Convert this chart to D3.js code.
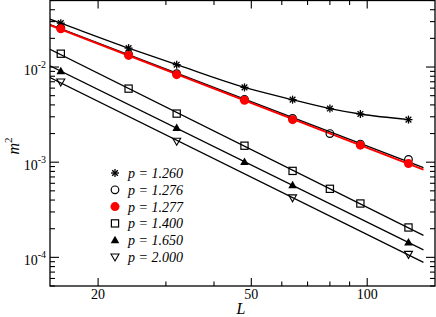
<!DOCTYPE html>
<html lang="en">
<head>
    <meta charset="UTF-8">
    <title>m2 vs L</title>
    <style>
        body { margin: 0; background: #fff; }
        text { font-family: "Liberation Serif", "Times New Roman", serif; fill: #000; }
        .fit { fill: none; stroke: #000; stroke-width: 1.3px; }
    </style>
    <script src="https://d3js.org/d3.v7.min.js"></script>
</head>
<body>
    <svg id="chart"></svg>

    <script>
        // system sizes
        const L = [16, 24, 32, 48, 64, 80, 96, 128];

        // m^2 for each p (null = no point)
        const p1260 = [0.0289, 0.0158, 0.01058, 0.00611, 0.00454, 0.00366, 0.00321, 0.0028];
        const p1276 = [0.0258, 0.0136, 0.0085, 0.00458, 0.00288, 0.0020, 0.00155, 0.00107];
        const p1277 = [0.0252, 0.01324, 0.00831, 0.00447, 0.0028, null, 0.00151, 0.00097];
        const p1400 = [0.0138, 0.00593, 0.00324, 0.00149, 0.00081, 0.000525, 0.000368, 0.000206];
        const p1650 = [0.0090, null, 0.00229, 0.001007, 0.000573, null, null, 0.000143];
        const p2000 = [0.00695, null, 0.00166, null, 0.000422, null, null, 0.0001075];

        const legendLabels = ["p = 1.260", "p = 1.276", "p = 1.277", "p = 1.400", "p = 1.650", "p = 2.000"];
        const xMajor = [20, 50, 100];
        const xMinor = [30, 40, 60, 70, 80, 90];
        const yMajor = [1e-4, 1e-3, 1e-2];
        const yMajorExp = ["-4", "-3", "-2"];

        const width = 436, height = 317;
        const mLeft = 50, mRight = 435, mTop = 0.5, mBottom = 286;

        const svg = d3.select("#chart").attr("width", width).attr("height", height);

        const x = d3.scaleLog().domain([15, 150]).range([mLeft, mRight]);
        const y = d3.scaleLog().domain([5e-5, 0.05]).range([mBottom, mTop]);

        const yMinor = [];
        [1e-5, 1e-4, 1e-3, 1e-2].forEach(d => {
            for (let k = 2; k <= 9; k++) {
                const v = k * d;
                if (v >= 5e-5 && v <= 0.05) yMinor.push(v);
            }
        });

        // clip for the plot area
        svg.append("clipPath").attr("id", "clip")
            .append("rect").attr("x", mLeft).attr("y", mTop)
            .attr("width", mRight - mLeft).attr("height", mBottom - mTop);

        const plot = svg.append("g").attr("clip-path", "url(#clip)");

        function pts(vals) {
            return L.map((l, i) => ({ L: l, v: vals[i] })).filter(d => d.v != null);
        }

        // power law fit in log-log
        function fit(vals) {
            const d = pts(vals);
            const xs = d.map(p => Math.log10(p.L)), ys = d.map(p => Math.log10(p.v));
            const mx = d3.mean(xs), my = d3.mean(ys);
            const b = d3.sum(xs, (xv, i) => (xv - mx) * (ys[i] - my)) / d3.sum(xs, xv => (xv - mx) ** 2);
            const a = my - b * mx;
            return [15, 140].map(l => ({ L: l, v: Math.pow(10, a + b * Math.log10(l)) }));
        }

        const line = d3.line().x(d => x(d.L)).y(d => y(d.v));

        // p = 1.260 drawn through its points, start extended to the left edge
        const starPts = pts(p1260);
        const s0 = starPts[0], s1 = starPts[1];
        const slope = Math.log10(s1.v / s0.v) / Math.log10(s1.L / s0.L);
        const starLine = [{ L: 15, v: s0.v * Math.pow(15 / s0.L, slope) }].concat(starPts);
        plot.append("path").attr("class", "fit")
            .attr("d", d3.line().x(d => x(d.L)).y(d => y(d.v)).curve(d3.curveMonotoneX)(starLine));

        [p1400, p1650, p2000, p1276].forEach(s => {
            plot.append("path").attr("class", "fit").attr("d", line(fit(s)));
        });
        plot.append("path").attr("d", line(fit(p1277)))
            .attr("fill", "none").attr("stroke", "#f00").attr("stroke-width", 2);

        // markers
        function marker(g, type, cx, cy) {
            if (type === "star") {
                const r = 4;
                for (let a = 0; a < 4; a++) {
                    const t = a * Math.PI / 4;
                    g.append("line")
                        .attr("x1", cx - r * Math.sin(t)).attr("y1", cy - r * Math.cos(t))
                        .attr("x2", cx + r * Math.sin(t)).attr("y2", cy + r * Math.cos(t))
                        .attr("stroke", "#000").attr("stroke-width", 1.3);
                }
            } else if (type === "circle") {
                g.append("circle").attr("cx", cx).attr("cy", cy).attr("r", 3.8)
                    .attr("fill", "none").attr("stroke", "#000").attr("stroke-width", 1.2);
            } else if (type === "dot") {
                g.append("circle").attr("cx", cx).attr("cy", cy).attr("r", 4.5)
                    .attr("fill", "#f00");
            } else if (type === "square") {
                g.append("rect").attr("x", cx - 3.6).attr("y", cy - 3.6)
                    .attr("width", 7.2).attr("height", 7.2)
                    .attr("fill", "none").attr("stroke", "#000").attr("stroke-width", 1.2);
            } else if (type === "up") {
                g.append("path").attr("d", `M${cx},${cy - 4.5}L${cx + 4.3},${cy + 3}L${cx - 4.3},${cy + 3}Z`)
                    .attr("fill", "#000");
            } else if (type === "down") {
                g.append("path").attr("d", `M${cx},${cy + 4}L${cx + 4},${cy - 3}L${cx - 4},${cy - 3}Z`)
                    .attr("fill", "none").attr("stroke", "#000").attr("stroke-width", 1.1);
            }
        }

        const series = [
            { vals: p1260, type: "star" },
            { vals: p1276, type: "circle" },
            { vals: p1277, type: "dot" },
            { vals: p1400, type: "square" },
            { vals: p1650, type: "up" },
            { vals: p2000, type: "down" }
        ];

        const mg = svg.append("g");
        series.forEach(s => {
            pts(s.vals).forEach(d => marker(mg, s.type, x(d.L), y(d.v)));
        });

        // legend
        const lg = svg.append("g");
        legendLabels.forEach((lab, i) => {
            const ly = 173 + i * 16.8;
            marker(lg, series[i].type, 115, ly);
            lg.append("text").attr("x", 128).attr("y", ly + 5)
                .attr("font-size", 14).attr("font-style", "italic").text(lab);
        });

        // ticks (inward, on all four sides)
        const axes = svg.append("g");
        function ticks(scale, vals, len, orient) {
            vals.forEach(v => {
                const p = scale(v);
                if (orient === "x") {
                    axes.append("line").attr("x1", p).attr("x2", p).attr("y1", mBottom).attr("y2", mBottom - len)
                        .attr("stroke", "#000").attr("stroke-width", 1.1);
                    axes.append("line").attr("x1", p).attr("x2", p).attr("y1", mTop).attr("y2", mTop + len)
                        .attr("stroke", "#000").attr("stroke-width", 1.1);
                } else {
                    axes.append("line").attr("y1", p).attr("y2", p).attr("x1", mLeft).attr("x2", mLeft + len)
                        .attr("stroke", "#000").attr("stroke-width", 1.1);
                    axes.append("line").attr("y1", p).attr("y2", p).attr("x1", mRight).attr("x2", mRight - len)
                        .attr("stroke", "#000").attr("stroke-width", 1.1);
                }
            });
        }
        ticks(x, xMajor, 8, "x");
        ticks(x, xMinor, 4.5, "x");
        ticks(y, yMajor, 9, "y");
        ticks(y, yMinor, 5, "y");

        axes.append("rect").attr("x", mLeft).attr("y", mTop)
            .attr("width", mRight - mLeft).attr("height", mBottom - mTop)
            .attr("fill", "none").attr("stroke", "#000").attr("stroke-width", 1.3);

        // tick labels
        xMajor.forEach(v => {
            axes.append("text").attr("x", x(v)).attr("y", 299)
                .attr("text-anchor", "middle").attr("font-size", 14).text(v);
        });
        yMajor.forEach((v, i) => {
            const t = axes.append("text").attr("x", 46).attr("y", y(v) + 8)
                .attr("text-anchor", "end").attr("font-size", 14);
            t.append("tspan").text("10");
            t.append("tspan").attr("font-size", 10).attr("dy", -7).text(yMajorExp[i]);
        });

        // axis titles
        svg.append("text").attr("x", 241).attr("y", 314)
            .attr("text-anchor", "middle").attr("font-size", 16).attr("font-style", "italic").text("L");
        const yt = svg.append("text").attr("transform", "translate(19,146) rotate(-90)")
            .attr("text-anchor", "middle").attr("font-size", 16);
        yt.append("tspan").attr("font-style", "italic").text("m");
        yt.append("tspan").attr("font-size", 11).attr("dy", -7).text("2");
    </script>
</body>
</html>
